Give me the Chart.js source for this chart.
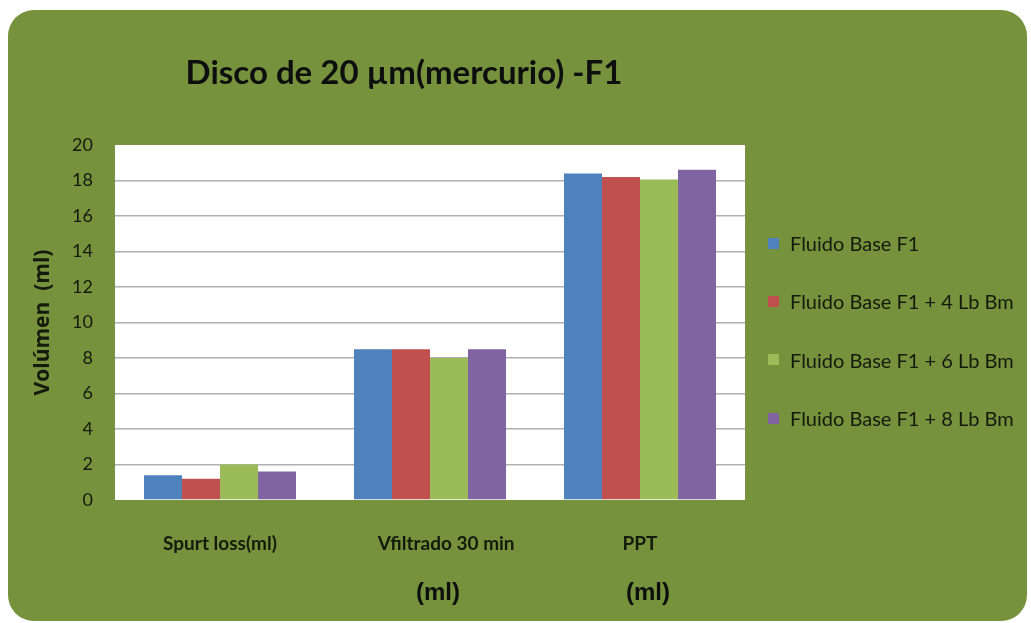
<!DOCTYPE html>
<html>
<head>
<meta charset="utf-8">
<script src="https://cdn.jsdelivr.net/npm/chart.js@4.4.1/dist/chart.umd.min.js"></script>
<style>
  html, body { margin: 0; background: #fff; }
  #panel {
    position: absolute; left: 8px; top: 10px;
    width: 1019px; height: 611px;
    background: #76923C;
    border-radius: 26px;
    overflow: hidden;
  }
  #chart { display: block; }
  #legend {
    position: absolute; left: 760px; top: 204px;
    margin: 0; padding: 0; list-style: none;
    font: 20px Lato, sans-serif; color: #141a0c;
  }
  #legend li { height: 58.3px; display: flex; align-items: center; white-space: nowrap; }
  #legend span.box { width: 11px; height: 11px; margin-right: 11px; flex: none; }
</style>
</head>
<body>
<div id="panel">
  <canvas id="chart" width="1019" height="610"></canvas>
  <ul id="legend"></ul>
</div>
<script>
// categories (leading spaces keep the middle label nudged right like the original sheet)
const categories = ["Spurt loss(ml)", "       Vfiltrado 30 min", "PPT"];
const unitNotes = ["", "(ml)", "(ml)"];
const seriesNames = [
  "Fluido Base F1",
  "Fluido Base F1 + 4 Lb Bm",
  "Fluido Base F1 + 6 Lb Bm",
  "Fluido Base F1 + 8 Lb Bm"
];
const baseF1 = [1.4, 8.5, 18.4];
const plus4Lb = [1.2, 8.5, 18.2];
const plus6Lb = [2.0, 8.0, 18.05];
const plus8Lb = [1.6, 8.5, 18.6];
const yTicks = [0, 2, 4, 6, 8, 10, 12, 14, 16, 18, 20];

const colors = ["#4F81BD", "#C0504D", "#9BBB59", "#8064A2"];
const textColor = "#141a0c";

// white plot background, heading and the "(ml)" notes under the axis
const decorations = {
  id: "decorations",
  beforeDraw(chart) {
    const {ctx, chartArea: a} = chart;
    ctx.save();
    ctx.fillStyle = "#ffffff";
    ctx.fillRect(a.left, a.top, a.right - a.left, a.bottom - a.top);
    ctx.fillStyle = "#0e0e0e";
    ctx.font = "bold 33px Lato";
    ctx.textAlign = "center";
    ctx.textBaseline = "middle";
    ctx.fillText("Disco de 20 \u00b5m(mercurio) -F1", 396, 63);
    ctx.restore();
  },
  afterDraw(chart) {
    const {ctx, scales: {x}} = chart;
    ctx.save();
    ctx.fillStyle = "#0e0e0e";
    ctx.font = "bold 24px 'Liberation Sans'";
    ctx.textAlign = "center";
    ctx.textBaseline = "middle";
    unitNotes.forEach((t, i) => {
      if (t) ctx.fillText(t, x.getPixelForValue(i) + 8, 583);
    });
    ctx.restore();
  }
};

// legend list built from the chart's own legend items
const htmlLegend = {
  id: "htmlLegend",
  afterUpdate(chart) {
    const ul = document.getElementById("legend");
    ul.innerHTML = "";
    const items = chart.options.plugins.legend.labels.generateLabels(chart);
    items.forEach(item => {
      const li = document.createElement("li");
      const box = document.createElement("span");
      box.className = "box";
      box.style.background = item.fillStyle;
      li.appendChild(box);
      li.appendChild(document.createTextNode(item.text));
      ul.appendChild(li);
    });
  }
};

const ctx = document.getElementById("chart").getContext("2d");
new Chart(ctx, {
  type: "bar",
  data: {
    labels: categories,
    datasets: [baseF1, plus4Lb, plus6Lb, plus8Lb].map((d, i) => ({
      label: seriesNames[i],
      data: d,
      backgroundColor: colors[i],
      borderWidth: 0,
      categoryPercentage: 0.724,
      barPercentage: 1.0
    }))
  },
  options: {
    responsive: false,
    animation: false,
    layout: { padding: { top: 135, bottom: 50, left: 22, right: 282 } },
    plugins: {
      title: { display: false },
      tooltip: { enabled: false },
      legend: { display: false }
    },
    scales: {
      x: {
        grid: { display: false },
        border: { display: false },
        ticks: {
          font: { family: "Lato", size: 19, weight: "bold" },
          color: textColor,
          padding: 24,
          maxRotation: 0,
          autoSkip: false
        },
        afterFit(s) { s.height = 70; }
      },
      y: {
        min: 0,
        max: 20,
        afterBuildTicks(s) { s.ticks = yTicks.map(v => ({ value: v })); },
        border: { display: false },
        grid: {
          drawTicks: false,
          lineWidth: 1.6,
          color: c => (c.tick.value === 0 || c.tick.value === 20) ? "rgba(0,0,0,0)" : "#b0b0b0"
        },
        ticks: {
          font: { family: "Lato", size: 18 },
          color: textColor,
          padding: 22
        },
        title: {
          display: true,
          text: "Vol\u00famen  (ml)",
          font: { family: "Open Sans", size: 21, weight: "bold" },
          color: textColor,
          padding: 0
        },
        afterFit(s) { s.width = 85; }
      }
    }
  },
  plugins: [decorations, htmlLegend]
});
</script>
</body>
</html>
